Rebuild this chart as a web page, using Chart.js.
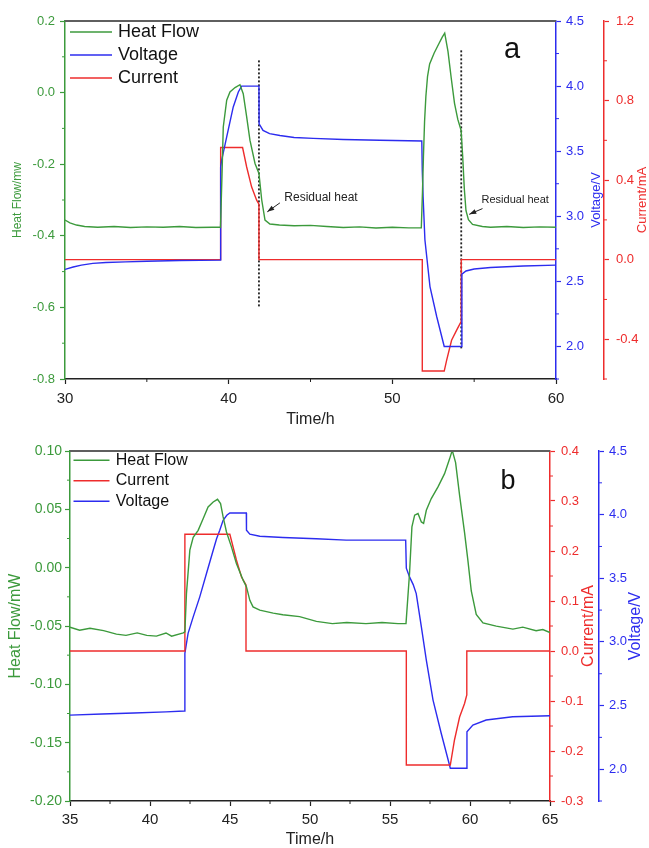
<!DOCTYPE html>
<html>
<head>
<meta charset="utf-8">
<script src="https://cdn.jsdelivr.net/npm/chart.js@4.4.1/dist/chart.umd.min.js"></script>
<style>
  html, body { margin: 0; padding: 0; background: #fff; }
  #wrap { position: relative; width: 649px; height: 848px; overflow: hidden; }
  canvas { position: absolute; left: 0; }
  #chartA { top: 0; width: 649px; height: 434px; }
  #chartB { top: 420px; width: 649px; height: 428px; }
</style>
</head>
<body>
<div id="wrap">
  <canvas id="chartA" width="649" height="434"></canvas>
  <canvas id="chartB" width="649" height="428"></canvas>
</div>
<script>
var FONT = 'Arial, "Liberation Sans", sans-serif';
Chart.defaults.font.family = FONT;

var GREEN = '#3c9a3c', BLUE = '#2c2cef', RED = '#ee2c2c', INK = '#222';

// ---------- panel a ----------
var timeHeatA = [30, 30.3, 30.7, 31.2, 32, 33, 34, 35, 36, 37, 38, 39, 39.5, 39.59, 39.67, 39.88, 40.08, 40.39, 40.69, 40.89,
  41.1, 41.3, 41.61, 41.85, 42.02, 42.22, 42.52, 43.1, 44, 45, 46, 47, 48, 49, 50, 51, 51.77, 51.84, 51.9, 51.97,
  52.05, 52.15, 52.28, 52.55, 52.85, 53.05, 53.2, 53.4, 53.6, 53.8, 54.0, 54.2, 54.3, 54.4, 54.5, 54.65, 54.9, 55.5, 56, 57,
  58, 59, 60];
var heatFlowA = [-0.356, -0.364, -0.370, -0.374, -0.376, -0.374, -0.377, -0.375, -0.376, -0.374, -0.377, -0.376, -0.376, -0.235, -0.096, -0.021, 0.002, 0.014, 0.022, -0.003,
  -0.068, -0.133, -0.198, -0.226, -0.300, -0.356, -0.367, -0.370, -0.372, -0.371, -0.374, -0.377, -0.375, -0.378, -0.376, -0.378, -0.378, -0.28, -0.18, -0.08,
  -0.01, 0.045, 0.08, 0.11, 0.137, 0.155, 0.166, 0.115, 0.04, -0.03, -0.075, -0.105, -0.18, -0.27, -0.33, -0.355, -0.368, -0.374, -0.376, -0.374,
  -0.377, -0.375, -0.376];

var timeVoltA = [30, 30.5, 31, 31.7, 32.5, 33.7, 35, 37, 39.5, 39.51, 39.57, 39.88, 40.28, 40.59, 40.79, 41.85, 41.86, 42.1, 42.5, 43.13,
  44, 45.17, 47, 49.24, 51.8, 51.83, 51.88, 51.99, 52.3, 52.71, 53.17, 54.24, 54.25, 54.5, 55, 56, 58, 60];
var voltageA = [2.592, 2.61, 2.625, 2.638, 2.645, 2.65, 2.655, 2.66, 2.663, 3.38, 3.43, 3.61, 3.84, 3.955, 4.0, 4.0, 3.71, 3.66, 3.635, 3.62,
  3.605, 3.598, 3.59, 3.584, 3.578, 3.35, 3.15, 2.82, 2.46, 2.23, 2.0, 2.0, 2.555, 2.58, 2.595, 2.607, 2.618, 2.625];

var timeCurrA = [30, 39.51, 39.51, 40.85, 41.1, 41.4, 41.71, 41.85, 41.85, 51.83, 51.83, 53.17, 53.32, 53.62, 53.93, 54.21, 54.21, 60];
var currentA = [0, 0, 0.564, 0.564, 0.466, 0.366, 0.299, 0.279, 0, 0, -0.56, -0.56, -0.505, -0.405, -0.354, -0.31, 0, 0];

// dotted markers at the end of each step (heat-flow axis units)
var markerTimeA = [41.85, 54.21];
var markerTopA = [0.09, 0.118];
var markerBottomA = [-0.603, -0.717];

var notesA = [
  {text: 'Residual heat', x: 43.40, y: -0.293, size: 12, fromX: 43.13, fromY: -0.308, toX: 42.36, toY: -0.333},
  {text: 'Residual heat', x: 55.45, y: -0.300, size: 11, fromX: 55.51, fromY: -0.324, toX: 54.70, toY: -0.340}
];

// ---------- panel b ----------
var timeHeatB = [35, 35.6, 36.25, 37.1, 37.9, 38.5, 39.2, 39.8, 40.4, 41.0, 41.35, 42.08, 42.18, 42.28, 42.49, 42.7, 43.01, 43.32, 43.63, 43.95,
  44.22, 44.41, 44.57, 44.78, 45.09, 45.4, 45.82, 46.03, 46.24, 46.44, 46.86, 47.7, 48.3, 49.35, 50.4, 51.4, 52.3, 53.5, 54.5, 55.5,
  56.0, 56.22, 56.37, 56.54, 56.75, 56.96, 57.1, 57.27, 57.58, 58.0, 58.41, 58.73, 58.89, 59.1, 59.35, 59.66, 59.87, 60.08, 60.39, 60.81,
  61.64, 62.68, 63.3, 64.13, 64.55, 65];
var heatFlowB = [-0.051, -0.0536, -0.052, -0.054, -0.057, -0.058, -0.0559, -0.058, -0.0587, -0.056, -0.0587, -0.0559, -0.055, -0.022, 0.015, 0.026, 0.032, 0.042, 0.052, 0.0563,
  0.0586, 0.055, 0.0435, 0.0306, 0.0178, 0.0036, -0.0107, -0.0165, -0.028, -0.0336, -0.0364, -0.039, -0.0403, -0.042, -0.046, -0.048, -0.047, -0.048, -0.047, -0.048,
  -0.048, -0.005, 0.0349, 0.045, 0.0464, 0.0392, 0.038, 0.0492, 0.0592, 0.0692, 0.0806, 0.0935, 0.1006, 0.09, 0.062, 0.03, 0.006, -0.02, -0.04, -0.0473,
  -0.0501, -0.0527, -0.051, -0.054, -0.053, -0.0556];

var timeCurrB = [35, 42.18, 42.18, 44.99, 45.4, 45.72, 46.0, 46.0, 56.02, 56.02, 58.77, 59.03, 59.35, 59.66, 59.8, 59.8, 65];
var currentB = [0, 0, 0.2335, 0.2335, 0.182, 0.148, 0.132, 0, 0, -0.228, -0.228, -0.178, -0.132, -0.105, -0.088, 0, 0];

var timeVoltB = [35, 37, 39, 41, 42.15, 42.18, 42.38, 42.7, 43.11, 43.53, 43.95, 44.16, 44.36, 44.57, 44.8, 44.99, 46.02, 46.03, 46.24, 46.86,
  48.31, 50.39, 52.26, 55.98, 56.02, 56.22, 56.45, 56.64, 56.96, 57.27, 57.69, 58.2, 58.77, 59.8, 59.81, 60.18, 61.01, 62.67, 65];
var voltageB = [2.425, 2.433, 2.442, 2.45, 2.457, 2.91, 3.067, 3.197, 3.354, 3.538, 3.72, 3.81, 3.878, 3.956, 3.995, 4.013, 4.013, 3.878, 3.846, 3.83,
  3.82, 3.81, 3.80, 3.80, 3.579, 3.511, 3.45, 3.38, 3.118, 2.857, 2.543, 2.282, 2.007, 2.007, 2.294, 2.347, 2.386, 2.412, 2.42];

// ---------- helpers ----------
function series(label, xs, ys, color, axis) {
  return {
    label: label,
    data: xs.map(function (x, i) { return {x: x, y: ys[i]}; }),
    borderColor: color, backgroundColor: color, borderWidth: 1.4,
    pointRadius: 0, tension: 0, fill: false, yAxisID: axis
  };
}

function markers(times, tops, bottoms) {
  return times.map(function (t, i) {
    return {
      label: '', data: [{x: t, y: tops[i]}, {x: t, y: bottoms[i]}],
      borderColor: INK, borderWidth: 1.8, borderDash: [2, 2],
      pointRadius: 0, fill: false, yAxisID: 'yHeat'
    };
  });
}

function yAxis(pos, color, min, max, step, digits, width, size, pad) {
  return {
    type: 'linear', position: pos, min: min, max: max,
    afterFit: function (s) { s.width = width; },
    border: {color: color, width: 1.5},
    grid: {drawOnChartArea: false, color: color, tickLength: 5, tickWidth: 1.2},
    ticks: {
      stepSize: step, includeBounds: false, color: color, padding: pad, font: {size: size},
      callback: function (v) { return v.toFixed(digits); }
    }
  };
}

function xAxis(min, max, step, height, pad) {
  return {
    type: 'linear', position: 'bottom', min: min, max: max,
    afterFit: function (s) { s.height = height; },
    border: {color: INK, width: 1.5},
    grid: {drawOnChartArea: false, color: INK, tickLength: 5, tickWidth: 1.2},
    ticks: {stepSize: step, color: INK, padding: pad, maxRotation: 0, font: {size: 15},
      callback: function (v) { return String(v); }}
  };
}

// frame, minor ticks, axis titles, legend, letter and notes
function decor(cfg) {
  return {
    id: 'decor',
    afterDraw: function (chart) {
      var ctx = chart.ctx, area = chart.chartArea;
      var sx = chart.scales.x, sh = chart.scales.yHeat;
      ctx.save();

      ctx.strokeStyle = '#5f5f5f';
      ctx.lineWidth = 2;
      ctx.beginPath();
      ctx.moveTo(area.left, area.top);
      ctx.lineTo(area.right, area.top);
      ctx.stroke();

      Object.keys(cfg.minor).forEach(function (id) {
        var s = chart.scales[id], step = cfg.minor[id];
        var majors = s.ticks.map(function (t) { return t.value; });
        ctx.strokeStyle = cfg.axisColors[id];
        ctx.lineWidth = 1;
        for (var k = Math.ceil(s.min / step - 1e-6); k * step <= s.max + 1e-9; k++) {
          var v = k * step;
          if (majors.some(function (m) { return Math.abs(m - v) < step / 10; })) continue;
          var p = s.getPixelForValue(v);
          ctx.beginPath();
          if (s.isHorizontal()) { ctx.moveTo(p, s.top); ctx.lineTo(p, s.top + 3); }
          else if (s.position === 'left') { ctx.moveTo(s.right, p); ctx.lineTo(s.right - 3, p); }
          else { ctx.moveTo(s.left, p); ctx.lineTo(s.left + 3, p); }
          ctx.stroke();
        }
      });

      cfg.titles.forEach(function (t) {
        var s = chart.scales[t.axis];
        ctx.fillStyle = t.color;
        ctx.font = t.size + 'px ' + FONT;
        ctx.textAlign = 'center';
        ctx.textBaseline = 'middle';
        if (s.isHorizontal()) {
          ctx.fillText(t.text, (area.left + area.right) / 2, s.top + t.dy);
        } else {
          var x = s.position === 'left' ? s.left + t.dx : s.right - t.dx;
          ctx.save();
          ctx.translate(x, (area.top + area.bottom) / 2);
          ctx.rotate(-Math.PI / 2);
          ctx.fillText(t.text, 0, 0);
          ctx.restore();
        }
      });

      var lg = cfg.legend;
      ctx.font = lg.size + 'px ' + FONT;
      ctx.textAlign = 'left';
      ctx.textBaseline = 'middle';
      lg.order.forEach(function (di, row) {
        var ds = chart.data.datasets[di], y = area.top + lg.dy + row * lg.gap;
        ctx.strokeStyle = ds.borderColor;
        ctx.lineWidth = 1.5;
        ctx.beginPath();
        ctx.moveTo(area.left + lg.dx, y);
        ctx.lineTo(area.left + lg.dx + lg.len, y);
        ctx.stroke();
        ctx.fillStyle = '#111';
        ctx.fillText(ds.label, area.left + lg.textDx, y);
      });

      ctx.font = cfg.letter.size + 'px ' + FONT;
      ctx.textAlign = 'center';
      ctx.textBaseline = 'alphabetic';
      ctx.fillStyle = '#111';
      ctx.fillText(cfg.letter.text, area.right - cfg.letter.dx, area.top + cfg.letter.dy);

      (cfg.notes || []).forEach(function (n) {
        ctx.font = n.size + 'px ' + FONT;
        ctx.fillStyle = INK;
        ctx.textAlign = 'left';
        ctx.textBaseline = 'middle';
        ctx.fillText(n.text, sx.getPixelForValue(n.x), sh.getPixelForValue(n.y));
        var x0 = sx.getPixelForValue(n.fromX), y0 = sh.getPixelForValue(n.fromY);
        var x1 = sx.getPixelForValue(n.toX), y1 = sh.getPixelForValue(n.toY);
        var a = Math.atan2(y1 - y0, x1 - x0), c = Math.cos(a), sn = Math.sin(a);
        ctx.strokeStyle = INK;
        ctx.lineWidth = 1;
        ctx.beginPath();
        ctx.moveTo(x0, y0);
        ctx.lineTo(x1, y1);
        ctx.stroke();
        ctx.beginPath();
        ctx.moveTo(x1, y1);
        ctx.lineTo(x1 - 7 * c + 2.5 * sn, y1 - 7 * sn - 2.5 * c);
        ctx.lineTo(x1 - 7 * c - 2.5 * sn, y1 - 7 * sn + 2.5 * c);
        ctx.closePath();
        ctx.fill();
      });

      ctx.restore();
    }
  };
}

var baseOptions = function (padTop, scales) {
  return {
    responsive: false, animation: false, devicePixelRatio: 1,
    layout: {padding: {top: padTop, left: 0, right: 0, bottom: 0}},
    plugins: {legend: {display: false}, tooltip: {enabled: false}},
    scales: scales
  };
};

// ---------- chart a ----------
new Chart(document.getElementById('chartA'), {
  type: 'line',
  data: {
    datasets: [
      series('Heat Flow', timeHeatA, heatFlowA, GREEN, 'yHeat'),
      series('Voltage', timeVoltA, voltageA, BLUE, 'yVolt'),
      series('Current', timeCurrA, currentA, RED, 'yCurr')
    ].concat(markers(markerTimeA, markerTopA, markerBottomA))
  },
  options: baseOptions(21, {
    x: xAxis(30, 60, 10, 55, 6),
    yHeat: yAxis('left', GREEN, -0.8, 0.2, 0.2, 1, 65, 13, 5),
    yVolt: yAxis('right', BLUE, 1.75, 4.5, 0.5, 1, 48, 13, 5),
    yCurr: yAxis('right', RED, -0.6, 1.2, 0.4, 1, 45, 13, 7)
  }),
  plugins: [decor({
    minor: {x: 5, yHeat: 0.1, yVolt: 0.25, yCurr: 0.2},
    axisColors: {x: INK, yHeat: GREEN, yVolt: BLUE, yCurr: RED},
    titles: [
      {axis: 'yHeat', text: 'Heat Flow/mw', color: GREEN, size: 12, dx: 18},
      {axis: 'yVolt', text: 'Voltage/V', color: BLUE, size: 13, dx: 8},
      {axis: 'yCurr', text: 'Current/mA', color: RED, size: 13, dx: 7},
      {axis: 'x', text: 'Time/h', color: INK, size: 16, dy: 41}
    ],
    legend: {dx: 5, dy: 11, len: 42, gap: 23, textDx: 53, size: 18, order: [0, 1, 2]},
    letter: {text: 'a', dx: 44, dy: 37, size: 29},
    notes: notesA
  })]
});

// ---------- chart b ----------
new Chart(document.getElementById('chartB'), {
  type: 'line',
  data: {
    datasets: [
      series('Heat Flow', timeHeatB, heatFlowB, GREEN, 'yHeat'),
      series('Current', timeCurrB, currentB, RED, 'yCurr'),
      series('Voltage', timeVoltB, voltageB, BLUE, 'yVolt')
    ]
  },
  options: baseOptions(31, {
    x: xAxis(35, 65, 5, 47, 5),
    yHeat: yAxis('left', GREEN, -0.2, 0.1, 0.05, 2, 70, 14, 3),
    yCurr: yAxis('right', RED, -0.3, 0.4, 0.1, 1, 49, 13, 6),
    yVolt: yAxis('right', BLUE, 1.75, 4.5, 0.5, 1, 50, 13, 5)
  }),
  plugins: [decor({
    minor: {x: 2.5, yHeat: 0.025, yVolt: 0.25, yCurr: 0.05},
    axisColors: {x: INK, yHeat: GREEN, yVolt: BLUE, yCurr: RED},
    titles: [
      {axis: 'yHeat', text: 'Heat Flow/mW', color: GREEN, size: 16, dx: 16},
      {axis: 'yCurr', text: 'Current/mA', color: RED, size: 16, dx: 10},
      {axis: 'yVolt', text: 'Voltage/V', color: BLUE, size: 16, dx: 13},
      {axis: 'x', text: 'Time/h', color: INK, size: 16, dy: 39}
    ],
    legend: {dx: 3.5, dy: 9.3, len: 36, gap: 20.5, textDx: 45.7, size: 16, order: [0, 1, 2]},
    letter: {text: 'b', dx: 42, dy: 37.6, size: 27}
  })]
});
</script>
</body>
</html>
